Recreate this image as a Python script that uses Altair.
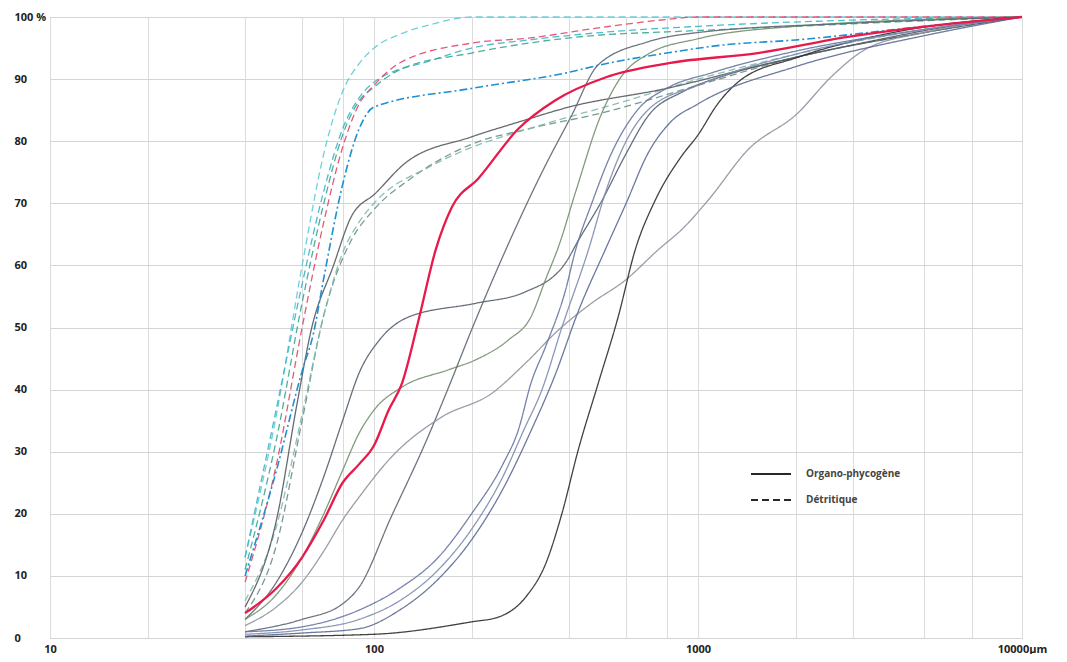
import altair as alt
import pandas as pd

# ---- Détritique (dashed) curves: grain size (µm) / cumulative %
d1_x = [40, 50, 60, 70, 80, 90, 100, 120, 150, 200, 10000]
d1_y = [13, 36, 60, 78, 88, 92.5, 95, 97.2, 98.8, 100, 100]
d2_x = [40, 50, 60, 70, 80, 90, 100, 150, 200, 300, 500, 1000, 3000, 10000]
d2_y = [13, 37, 57, 72, 82, 87, 89.5, 93, 95, 96.3, 97.5, 98.5, 99.5, 100]
d3_x = [40, 50, 60, 70, 80, 90, 100, 120, 200, 300, 500, 800, 1000, 10000]
d3_y = [9, 28, 50, 67, 79, 86, 89, 92.6, 95.8, 96.6, 98.3, 99.6, 100, 100]
d4_x = [40, 50, 60, 70, 80, 90, 100, 120, 200, 300, 500, 800, 2000, 5000, 10000]
d4_y = [11, 32, 54, 70, 81, 86.5, 88.7, 91.5, 94.2, 95.8, 97.1, 97.6, 98.5, 99.4, 100]
d5_x = [40, 50, 60, 65, 70, 80, 90, 100, 200, 400, 500, 800, 1200, 2000, 5000, 10000]
d5_y = [10, 27, 43, 49, 58, 73, 82, 85.5, 88.5, 91.1, 92.3, 94.2, 95.5, 96.3, 98.5, 100]
d6_x = [40, 50, 60, 70, 85, 100, 130, 200, 300, 500, 1000, 2000, 5000, 10000]
d6_y = [4, 15, 35, 52, 64, 69, 74, 79.5, 82, 84.5, 89, 93.5, 97.5, 100]
d7_x = [40, 50, 60, 70, 80, 90, 100, 150, 200, 300, 600, 1000, 2000, 5000, 10000]
d7_y = [6, 18, 36, 52, 62, 67, 70, 76, 79, 82, 86.5, 90, 94, 98, 100]

# ---- Organo-phycogène (solid) curves
red_x = [40, 50, 60, 70, 80, 90, 100, 111, 122, 137, 155, 174, 210, 279, 363, 520, 822, 1530, 2900, 5500, 10000]
red_y = [4, 8, 13, 19, 25, 28, 31, 36.7, 41, 51, 62.5, 69.4, 74, 82, 86.6, 90.3, 92.6, 94.2, 96.8, 98.7, 100]
s1_x = [40, 50, 58, 64, 75, 85, 101, 125, 200, 280, 400, 800, 1500, 3000, 6000, 10000]
s1_y = [5, 19, 38, 49.6, 60, 67.8, 71.6, 76.5, 80.7, 83.1, 85.5, 88.5, 92, 95.5, 98.5, 100]
g1_x = [40, 50, 60, 70, 80, 90, 104, 128, 206, 292, 390, 427, 500, 600, 700, 900, 1200, 2000, 5000, 10000]
g1_y = [3, 9, 17, 26, 35, 42.7, 48, 51.7, 53.9, 55.7, 60.4, 64, 70, 78, 84, 88, 90.5, 93.5, 97.5, 100]
g2_x = [40, 50, 60, 70, 80, 90, 100, 122, 170, 206, 260, 305, 340, 371, 420, 500, 578, 700, 1000, 2000, 10000]
g2_y = [3, 7, 13, 20, 27, 33, 36.7, 40.4, 43.2, 44.8, 48, 51.7, 58, 63, 72, 84, 90.3, 94, 96.5, 98.5, 100]
g3_x = [40, 60, 80, 90, 113, 144, 170, 200, 255, 330, 406, 492, 700, 1000, 3000, 10000]
g3_y = [1, 3, 5.5, 8.2, 19.5, 31.4, 40.4, 49.6, 62.5, 75, 84, 92.3, 96, 97.5, 99, 100]
g4_x = [40, 50, 60, 70, 80, 90, 113, 162, 231, 294, 371, 469, 596, 753, 900, 1075, 1425, 2030, 2570, 3265, 5000, 10000]
g4_y = [2, 5, 9, 14, 19, 22.7, 29.1, 35.6, 39.4, 44.3, 49.6, 53.9, 57.6, 62.5, 66, 70.5, 78.6, 84.5, 90.3, 94.7, 97.5, 100]
bk_x = [40, 100, 200, 243, 294, 339, 380, 427, 492, 567, 640, 738, 887, 1000, 1150, 1328, 2030, 4000, 10000]
bk_y = [0.2, 0.6, 2.6, 3.4, 6.6, 12, 20, 30.3, 41, 51.7, 62.5, 70.5, 77.5, 81, 86, 89.5, 93.5, 97.5, 100]
b1_x = [40, 60, 90, 120, 158, 200, 250, 279, 305, 339, 390, 419, 470, 540, 650, 800, 1100, 2000, 5000, 10000]
b1_y = [1, 1.8, 4.5, 8, 13, 20, 28, 33.5, 41, 47, 56, 62.5, 70, 78, 85, 88.5, 91, 94.5, 98, 100]
b2_x = [40, 60, 90, 120, 158, 200, 250, 290, 330, 380, 459, 520, 600, 700, 1000, 2000, 5000, 10000]
b2_y = [0.6, 1.3, 3, 6, 11, 17.5, 26, 33.5, 40, 50, 62.5, 72, 80, 85, 89, 94, 98, 100]
b3_x = [40, 60, 90, 120, 158, 200, 250, 306, 360, 430, 517, 600, 700, 820, 1000, 2000, 5000, 10000]
b3_y = [0.3, 0.8, 1.5, 4.5, 9.5, 15.8, 24, 33.5, 42, 53, 62.5, 70, 78, 83, 86, 92, 97, 100]

ORG = "Organo-phycogène"
DET = "Détritique"

curves = [
    ("d1", DET, "#5fcbd8", d1_x, d1_y),
    ("d2", DET, "#3db4c6", d2_x, d2_y),
    ("d3", DET, "#e0476c", d3_x, d3_y),
    ("d4", DET, "#3aa78f", d4_x, d4_y),
    ("d6", DET, "#6a8e88", d6_x, d6_y),
    ("d7", DET, "#7fb8ae", d7_x, d7_y),
    ("s1", ORG, "#555a60", s1_x, s1_y),
    ("g1", ORG, "#55606e", g1_x, g1_y),
    ("g2", ORG, "#74906f", g2_x, g2_y),
    ("g3", ORG, "#5d6672", g3_x, g3_y),
    ("g4", ORG, "#8d929e", g4_x, g4_y),
    ("bk", ORG, "#2e2e2e", bk_x, bk_y),
    ("b1", ORG, "#6676a0", b1_x, b1_y),
    ("b2", ORG, "#7f8cb0", b2_x, b2_y),
    ("b3", ORG, "#5a6a92", b3_x, b3_y),
]

rows = []
for name, kind, _c, xs, ys in curves:
    for x, y in zip(xs, ys):
        rows.append({"curve": name, "kind": kind, "size": x, "pct": y})
df = pd.DataFrame(rows)

red_df = pd.DataFrame({"size": red_x, "pct": red_y, "kind": ORG})
d5_df = pd.DataFrame({"size": d5_x, "pct": d5_y, "kind": DET})

x_grid = [10, 20, 40, 60, 80, 100, 200, 400, 600, 800, 1000, 2000, 3000, 5000, 7000, 10000]
y_ticks = [0, 10, 20, 30, 40, 50, 60, 70, 80, 90, 100]

xenc = alt.X(
    "size:Q",
    scale=alt.Scale(type="log", domain=[10, 10000], nice=False),
    axis=alt.Axis(
        values=x_grid, title=None, ticks=False, domain=False,
        labelExpr="datum.value == 10000 ? '10000µm' : (datum.value == 10 || datum.value == 100 || datum.value == 1000 ? format(datum.value, 'd') : '')",
        labelPadding=5, labelFontSize=11, labelFont="Open Sans", labelFontWeight="bold",
        labelColor="#222222", gridColor="#dcdcdc", labelFlush=False,
    ),
)
yenc = alt.Y(
    "pct:Q",
    scale=alt.Scale(domain=[0, 100], nice=False),
    axis=alt.Axis(
        values=y_ticks, title=None, ticks=False, domain=False,
        labelExpr="datum.value == 100 ? '100 %' : format(datum.value, 'd')",
        labelAlign="left", labelPadding=36, labelFontSize=11, labelFont="Open Sans",
        labelFontWeight="bold", labelColor="#222222", gridColor="#d4d4d4",
    ),
)

base = alt.Chart(df).mark_line(interpolate="monotone", strokeWidth=1.3, opacity=0.9).encode(
    x=xenc,
    y=yenc,
    color=alt.Color(
        "curve:N",
        scale=alt.Scale(domain=[c[0] for c in curves], range=[c[2] for c in curves]),
        legend=None,
    ),
    strokeDash=alt.StrokeDash(
        "kind:N",
        scale=alt.Scale(domain=[ORG, DET], range=[[1, 0], [7, 4]]),
        legend=alt.Legend(
            title=None, orient="none", legendX=700, legendY=436,
            symbolType="stroke", symbolSize=1600, symbolStrokeWidth=1.8,
            symbolStrokeColor="#111111", labelFont="Open Sans", labelFontSize=10,
            labelFontWeight="bold", labelColor="#444444", labelOffset=14, rowPadding=-5,
        ),
    ),
    detail="curve:N",
)

d5_layer = alt.Chart(d5_df).mark_line(
    interpolate="monotone", strokeWidth=1.6, color="#1e90d0", strokeDash=[8, 3, 2, 3]
).encode(x="size:Q", y="pct:Q")

red_layer = alt.Chart(red_df).mark_line(
    interpolate="monotone", strokeWidth=2.3, color="#e8194b"
).encode(x="size:Q", y="pct:Q")

chart = alt.layer(base, d5_layer, red_layer).properties(
    width=972, height=621,
    padding={"left": 42, "top": 9, "right": 37, "bottom": 16},
    autosize=alt.AutoSizeParams(type="none"),
).configure_view(stroke="#c8c8c8").configure(background="white")

chart.save("out.html", embed_options={"renderer": "svg", "actions": False})
